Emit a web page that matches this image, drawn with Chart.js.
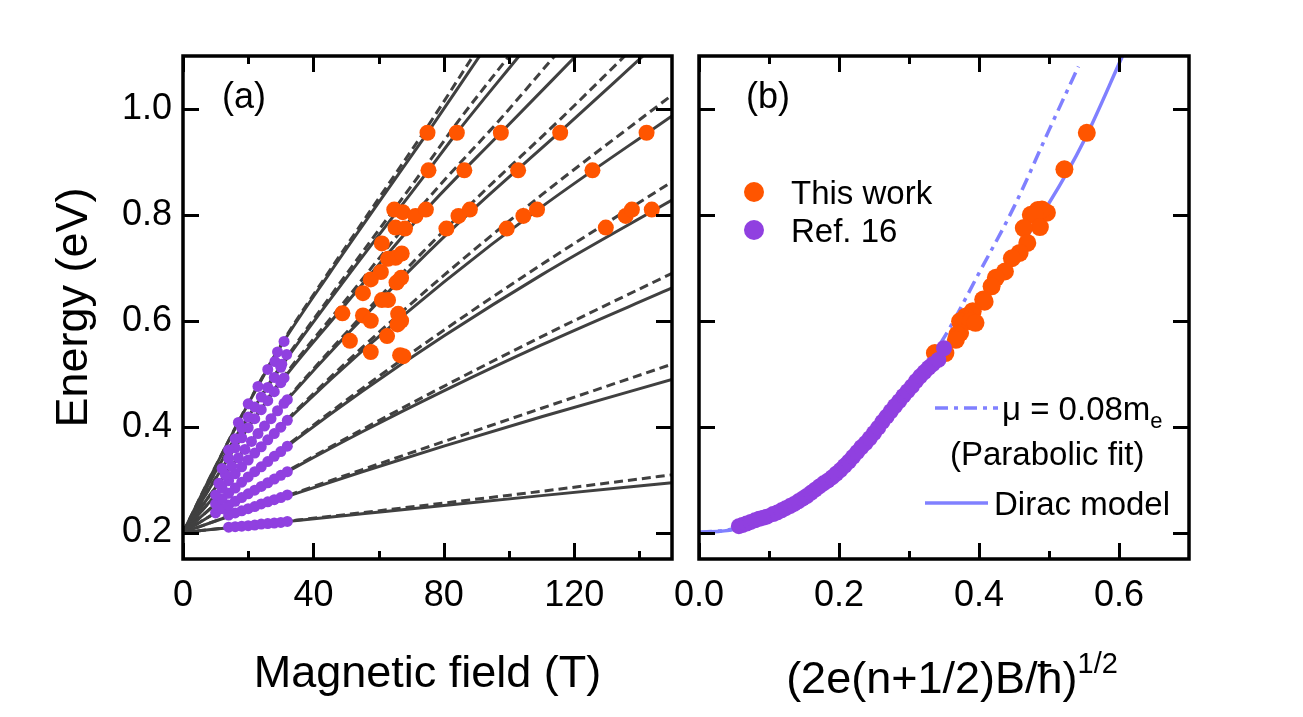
<!DOCTYPE html>
<html>
<head>
<meta charset="utf-8">
<script src="https://cdn.jsdelivr.net/npm/chart.js@4.4.1/dist/chart.umd.min.js"></script>
<style>
  html, body { margin: 0; padding: 0; background: #fff; }
  #wrap { position: relative; width: 1303px; height: 717px; overflow: hidden;
          font-family: 'Liberation Sans', Arial, sans-serif; color: #000; }
  #wrap canvas { position: absolute; left: 0; top: 0; }
  .lbl { position: absolute; white-space: nowrap; line-height: 1; transform: translateY(-50%); }
  .dot { position: absolute; width: 20px; height: 20px; border-radius: 50%; transform: translate(-50%, -50%); }
  .big { font-size: 36px; }
  .ttl { font-size: 45px; }
  .leg { font-size: 33px; }
  sup { font-size: 29px; vertical-align: 0; position: relative; top: -20px; }
  sub { font-size: 22px; vertical-align: 0; position: relative; top: 8px; }
</style>
</head>
<body>
<div id="wrap">
  <canvas id="chartA" width="1303" height="717"></canvas>
  <canvas id="chartB" width="1303" height="717"></canvas>

  <div class="lbl big" style="left:222px; top:96px;">(a)</div>
  <div class="lbl big" style="left:746px; top:96px;">(b)</div>

  <div class="dot" style="left:754px; top:192px; background:#FF5500;"></div>
  <div class="lbl leg" style="left:791px; top:192px;">This work</div>
  <div class="dot" style="left:754px; top:230px; background:#9040E0;"></div>
  <div class="lbl leg" style="left:791px; top:230px;">Ref. 16</div>

  <svg style="position:absolute; left:935px; top:403px;" width="63" height="10">
    <line x1="0" y1="5" x2="63" y2="5" stroke="#8080FF" stroke-width="3.5" stroke-dasharray="13 6 4 6"/>
  </svg>
  <div class="lbl leg" style="left:1002px; top:408px;">μ = 0.08m<sub>e</sub></div>
  <div class="lbl leg" style="left:950px; top:453px;">(Parabolic fit)</div>
  <svg style="position:absolute; left:925px; top:498px;" width="63" height="10">
    <line x1="0" y1="5" x2="63" y2="5" stroke="#8080FF" stroke-width="3.5"/>
  </svg>
  <div class="lbl leg" style="left:994px; top:503px;">Dirac model</div>

  <div class="lbl ttl" style="left:952px; top:677px; transform:translate(-50%,-50%);">(2e(n+1/2)B/ħ)<sup>1/2</sup></div>
</div>

<script>
// ---- axes ----
const fieldTicks = [0, 40, 80, 120];
const fieldMinor = [20, 60, 100, 140];
const energyTicks = [0.2, 0.4, 0.6, 0.8, 1.0];
const kTicks = [0.0, 0.2, 0.4, 0.6];
const kMinor = [0.1, 0.3, 0.5];

// ---- panel (a): Landau level fans, solid = Dirac, dashed = parabolic ----
const solidField = [
  [0, 10, 20, 35, 55, 80, 110, 150],
  [0, 10, 20, 35, 55, 80, 110, 150],
  [0, 10, 20, 35, 55, 80, 110, 150],
  [0, 10, 20, 35, 55, 80, 110, 150],
  [0, 10, 20, 35, 55, 80, 110, 150],
  [0, 10, 20, 32, 50, 70, 90, 115.7, 141.1],
  [0, 10, 20, 31, 50, 74.6, 97.5, 120.5],
  [0, 10, 20, 30, 50, 75.3, 84, 103.1],
  [0, 10, 20, 30, 45, 60, 75, 91]
];
const solidEnergy = [
  [0.2, 0.2065, 0.213, 0.2227, 0.2354, 0.2512, 0.2697, 0.294],
  [0.2, 0.2218, 0.2432, 0.2744, 0.3147, 0.3631, 0.4187, 0.489],
  [0.2, 0.2372, 0.2732, 0.3249, 0.3904, 0.4675, 0.5543, 0.662],
  [0.2, 0.2536, 0.3045, 0.3769, 0.4669, 0.5711, 0.6866, 0.8279],
  [0.2, 0.2706, 0.3368, 0.4295, 0.5432, 0.673, 0.815, 0.9869],
  [0.2, 0.285, 0.365, 0.451, 0.572, 0.698, 0.816, 0.957, 1.1],
  [0.2, 0.302, 0.398, 0.492, 0.632, 0.81, 0.955, 1.1],
  [0.2, 0.315, 0.418, 0.512, 0.68, 0.884, 0.955, 1.1],
  [0.2, 0.325, 0.443, 0.552, 0.69, 0.823, 0.955, 1.1]
];
const dashField = [
  [0, 10, 20, 35, 55, 80, 110, 150],
  [0, 10, 20, 35, 55, 80, 110, 150],
  [0, 10, 20, 35, 55, 80, 110, 150],
  [0, 10, 20, 35, 55, 80, 110, 150],
  [0, 10, 20, 35, 55, 80, 110, 150],
  [0, 10, 20, 32, 50, 70, 90, 115.7, 135.5],
  [0, 10, 20, 31, 50, 74.6, 97.5, 114],
  [0, 10, 20, 30, 50, 75.3, 84, 100],
  [0, 10, 20, 30, 45, 60, 75, 89]
];
const dashEnergy = [
  [0.2, 0.2066, 0.2133, 0.2235, 0.2375, 0.2556, 0.2779, 0.309],
  [0.2, 0.2219, 0.2438, 0.2761, 0.3189, 0.3718, 0.4347, 0.5179],
  [0.2, 0.2374, 0.2738, 0.3266, 0.3946, 0.4761, 0.5699, 0.6897],
  [0.2, 0.2538, 0.3053, 0.3792, 0.4723, 0.582, 0.7062, 0.8624],
  [0.2, 0.2708, 0.3377, 0.4322, 0.5495, 0.6856, 0.8376, 1.0262],
  [0.2, 0.2852, 0.3659, 0.4531, 0.577, 0.7073, 0.8308, 0.9804, 1.1],
  [0.2, 0.3024, 0.3995, 0.4953, 0.6399, 0.8267, 0.982, 1.1],
  [0.2, 0.3153, 0.4192, 0.5147, 0.6869, 0.8988, 0.9732, 1.1],
  [0.2, 0.3253, 0.444, 0.5542, 0.6946, 0.8307, 0.9667, 1.1]
];

// this work (orange), panel (a)
const workField = [75.0, 84.0, 97.5, 115.7, 142.2, 75.3, 86.3, 102.8, 125.6,
  64.8, 67.4, 71.3, 74.5, 84.5, 88.0, 104.4, 108.6, 135.8, 137.7, 143.8,
  65.2, 68.1, 80.8, 99.3, 129.7, 61.0, 62.9, 65.2, 67.1, 60.7, 57.6, 65.5, 66.9,
  55.2, 61.0, 62.9, 48.9, 55.2, 57.6, 66.0, 66.9, 65.8, 51.2, 62.6, 57.6, 66.6, 67.6];
const workEnergyA = [0.955, 0.955, 0.955, 0.955, 0.955, 0.884, 0.884, 0.884, 0.884,
  0.810, 0.805, 0.798, 0.810, 0.798, 0.810, 0.798, 0.810, 0.798, 0.810, 0.810,
  0.776, 0.774, 0.774, 0.774, 0.776, 0.746, 0.717, 0.719, 0.727, 0.692, 0.678, 0.672, 0.681,
  0.652, 0.639, 0.639, 0.614, 0.610, 0.600, 0.613, 0.600, 0.593, 0.562, 0.571, 0.541, 0.535, 0.533];

// Ref. 16 (purple), panel (a)
const refField = [
  14, 16, 18, 20, 22, 24, 26, 28, 30, 32,
  14, 16, 18, 20, 22, 24, 26, 28, 30, 32,
  10, 12, 14, 16, 18, 20, 22, 24, 26, 28, 30, 32,
  10, 12, 14, 16, 18, 20, 22, 24, 26, 28, 30, 32,
  10, 12, 14, 16, 18, 20, 22, 24, 26, 28, 30, 32,
  11, 13, 15, 17, 19, 21, 23, 25, 27, 29, 31, 32,
  12, 14, 16, 18, 20, 22, 24, 26, 28, 30, 31,
  14, 16, 18, 20, 22, 24, 26, 28, 30,
  17, 20, 23, 26, 29, 31, 28.2, 30.3, 31.8];
const refEnergyA = [
  0.210, 0.211, 0.212, 0.213, 0.214, 0.216, 0.217, 0.218, 0.219, 0.221,
  0.233, 0.237, 0.241, 0.245, 0.249, 0.254, 0.258, 0.262, 0.266, 0.271,
  0.237, 0.245, 0.252, 0.259, 0.266, 0.273, 0.280, 0.287, 0.294, 0.301, 0.308, 0.315,
  0.254, 0.264, 0.274, 0.284, 0.295, 0.305, 0.315, 0.324, 0.334, 0.344, 0.353, 0.363,
  0.271, 0.284, 0.298, 0.311, 0.324, 0.337, 0.350, 0.362, 0.375, 0.387, 0.399, 0.412,
  0.293, 0.309, 0.325, 0.341, 0.357, 0.372, 0.387, 0.401, 0.415, 0.430, 0.444, 0.451,
  0.321, 0.340, 0.360, 0.379, 0.398, 0.415, 0.432, 0.449, 0.466, 0.483, 0.492,
  0.356, 0.377, 0.397, 0.418, 0.437, 0.456, 0.474, 0.493, 0.512,
  0.408, 0.443, 0.476, 0.508, 0.541, 0.561, 0.523, 0.518, 0.536];

// ---- panel (b) ----
const workK = [0.554, 0.522, 0.484, 0.497, 0.474, 0.490, 0.480, 0.487, 0.464, 0.469, 0.458, 0.447,
  0.437, 0.424, 0.418, 0.406, 0.408, 0.391, 0.389, 0.381, 0.381, 0.373, 0.388, 0.395,
  0.373, 0.369, 0.367, 0.337, 0.352];
const workEnergyB = [0.955, 0.886, 0.809, 0.804, 0.800, 0.810, 0.800, 0.777, 0.775, 0.747, 0.728, 0.718,
  0.693, 0.681, 0.665, 0.640, 0.636, 0.618, 0.611, 0.608, 0.602, 0.599, 0.599, 0.596,
  0.577, 0.574, 0.564, 0.539, 0.539];

const refK = [0.057, 0.062, 0.068, 0.074, 0.080, 0.086, 0.092, 0.097,
  0.106, 0.112, 0.118, 0.124, 0.130, 0.136, 0.142, 0.148, 0.154, 0.160, 0.166, 0.172,
  0.178, 0.184, 0.190, 0.196, 0.202, 0.208, 0.214, 0.220, 0.226, 0.232, 0.238, 0.244,
  0.250, 0.256, 0.262, 0.268, 0.274, 0.280, 0.286, 0.292, 0.298, 0.304, 0.310, 0.316,
  0.322, 0.328, 0.334, 0.342, 0.350];
const refEnergyB = [0.212, 0.214, 0.217, 0.220, 0.223, 0.226, 0.228, 0.230,
  0.235, 0.238, 0.242, 0.246, 0.250, 0.254, 0.259, 0.264, 0.269, 0.275, 0.281, 0.287,
  0.293, 0.298, 0.304, 0.311, 0.318, 0.326, 0.334, 0.343, 0.352, 0.361, 0.369, 0.378,
  0.388, 0.398, 0.409, 0.419, 0.429, 0.439, 0.448, 0.458, 0.467, 0.476, 0.486, 0.495,
  0.503, 0.511, 0.518, 0.526, 0.548];

const diracK = [0, 0.05, 0.1, 0.15, 0.2, 0.25, 0.3, 0.35, 0.4, 0.45, 0.5, 0.55, 0.605];
const diracEnergy = [0.2, 0.206, 0.232, 0.266, 0.315, 0.385, 0.465, 0.548, 0.635, 0.725, 0.822, 0.94, 1.1];
const paraK = [0, 0.05, 0.1, 0.15, 0.2, 0.25, 0.3, 0.35, 0.4, 0.45, 0.5, 0.542];
const paraEnergy = [0.2, 0.207, 0.23, 0.268, 0.32, 0.388, 0.472, 0.568, 0.69, 0.815, 0.96, 1.08];

const ORANGE = '#FF5500';
const PURPLE = '#9040E0';
const GREY = '#404040';
const BLUE = '#8080FF';
const FONT = "'Liberation Sans', Arial, sans-serif";

const pts = (xs, ys) => xs.map((v, i) => ({ x: v, y: ys[i] }));

// inward ticks on all four sides + frame
const frameTicks = {
  id: 'frameTicks',
  afterDatasetsDraw(chart, args, opts) {
    const { ctx, chartArea: a, scales: { x, y } } = chart;
    ctx.save();
    ctx.strokeStyle = '#000';
    ctx.lineWidth = 3;
    ctx.beginPath();
    const xt = (list, len) => list.forEach(v => {
      const p = Math.round(x.getPixelForValue(v)) + 0.5;
      ctx.moveTo(p, a.bottom); ctx.lineTo(p, a.bottom - len);
      ctx.moveTo(p, a.top); ctx.lineTo(p, a.top + len);
    });
    xt(opts.xMajor, 16);
    xt(opts.xMinor, 8);
    opts.yMajor.forEach(v => {
      const p = Math.round(y.getPixelForValue(v)) + 0.5;
      ctx.moveTo(a.left, p); ctx.lineTo(a.left + 16, p);
      ctx.moveTo(a.right, p); ctx.lineTo(a.right - 16, p);
    });
    ctx.stroke();
    ctx.lineWidth = 3.5;
    ctx.strokeRect(a.left, a.top, a.right - a.left, a.bottom - a.top);
    ctx.restore();
  }
};

const tickFont = { family: FONT, size: 36 };
const titleFont = { family: FONT, size: 45 };

// ---------- chart A ----------
const dsA = [];
dsA.push({ data: pts(workField, workEnergyA), backgroundColor: ORANGE, pointRadius: 8, pointBorderWidth: 0, showLine: false });
dsA.push({ data: pts(refField, refEnergyA), backgroundColor: PURPLE, pointRadius: 5.5, pointBorderWidth: 0, showLine: false });
solidField.forEach((f, i) => dsA.push({
  data: pts(f, solidEnergy[i]), showLine: true, borderColor: GREY, borderWidth: 3,
  pointRadius: 0, cubicInterpolationMode: 'monotone'
}));
dashField.forEach((f, i) => dsA.push({
  data: pts(f, dashEnergy[i]), showLine: true, borderColor: GREY, borderWidth: 3,
  borderDash: [9, 5], pointRadius: 0, cubicInterpolationMode: 'monotone'
}));

new Chart(document.getElementById('chartA'), {
  type: 'scatter',
  data: { datasets: dsA },
  options: {
    responsive: false, animation: false, devicePixelRatio: 1,
    layout: { padding: { left: 0, top: 56, right: 631, bottom: 0 } },
    plugins: {
      legend: { display: false }, tooltip: { enabled: false },
      frameTicks: { xMajor: fieldTicks, xMinor: fieldMinor, yMajor: energyTicks }
    },
    scales: {
      x: {
        type: 'linear', min: 0, max: 150,
        grid: { display: false, drawTicks: false }, border: { display: false },
        afterBuildTicks: s => { s.ticks = fieldTicks.map(v => ({ value: v })); },
        afterFit: s => { s.height = 158; },
        ticks: { font: tickFont, color: '#000', padding: 15, maxRotation: 0, autoSkip: false,
                 callback: v => String(v) },
        title: { display: true, text: 'Magnetic field (T)', color: '#000',
                 font: titleFont, padding: { top: 0, bottom: 15 } }
      },
      y: {
        type: 'linear', min: 0.15, max: 1.1,
        grid: { display: false, drawTicks: false }, border: { display: false },
        afterBuildTicks: s => { s.ticks = energyTicks.map(v => ({ value: v })); },
        afterFit: s => { s.width = 183; },
        ticks: { font: tickFont, color: '#000', padding: 11, callback: v => Number(v).toFixed(1) },
        title: { display: true, text: 'Energy (eV)', color: '#000',
                 font: titleFont, padding: { top: 48, bottom: 0 } }
      }
    }
  },
  plugins: [frameTicks]
});

// ---------- chart B ----------
new Chart(document.getElementById('chartB'), {
  type: 'scatter',
  data: {
    datasets: [
      { data: pts(refK, refEnergyB), backgroundColor: PURPLE, pointRadius: 8, pointBorderWidth: 0, showLine: false },
      { data: pts(workK, workEnergyB), backgroundColor: ORANGE, pointRadius: 9, pointBorderWidth: 0, showLine: false },
      { data: pts(paraK, paraEnergy), showLine: true, borderColor: BLUE, borderWidth: 3.5,
        borderDash: [13, 6, 4, 6], pointRadius: 0, cubicInterpolationMode: 'monotone' },
      { data: pts(diracK, diracEnergy), showLine: true, borderColor: BLUE, borderWidth: 3.5,
        pointRadius: 0, cubicInterpolationMode: 'monotone' }
    ]
  },
  options: {
    responsive: false, animation: false, devicePixelRatio: 1,
    layout: { padding: { left: 699, top: 56, right: 114, bottom: 0 } },
    plugins: {
      legend: { display: false }, tooltip: { enabled: false },
      frameTicks: { xMajor: kTicks, xMinor: kMinor, yMajor: energyTicks }
    },
    scales: {
      x: {
        type: 'linear', min: 0, max: 0.7,
        grid: { display: false, drawTicks: false }, border: { display: false },
        afterBuildTicks: s => { s.ticks = kTicks.map(v => ({ value: v })); },
        afterFit: s => { s.height = 158; },
        ticks: { font: tickFont, color: '#000', padding: 15, maxRotation: 0, autoSkip: false,
                 callback: v => Number(v).toFixed(1) }
      },
      y: {
        type: 'linear', min: 0.15, max: 1.1,
        grid: { display: false, drawTicks: false }, border: { display: false },
        afterBuildTicks: s => { s.ticks = energyTicks.map(v => ({ value: v })); },
        afterFit: s => { s.width = 0; },
        ticks: { display: false }
      }
    }
  },
  plugins: [frameTicks]
});
</script>
</body>
</html>
